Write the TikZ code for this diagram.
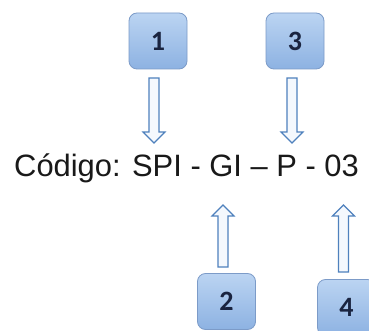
\documentclass[tikz,border=0pt]{standalone}
\usepackage{fontspec}
\setmainfont{Liberation Sans}
\newfontfamily\digitfont{Carlito}
\usetikzlibrary{calc}
\definecolor{boxtop}{HTML}{BBD4F2}
\definecolor{boxbot}{HTML}{8DB2E2}
\definecolor{boxline}{HTML}{7C9BC8}
\definecolor{arrline}{HTML}{4F81BD}
\definecolor{arrfill}{HTML}{F4F8FD}
\definecolor{digit}{HTML}{1A2440}
\tikzset{
  numbox/.style={rounded corners=8pt, minimum width=58pt, minimum height=56pt,
    top color=boxtop, bottom color=boxbot, draw=boxline, line width=0.8pt,
    font=\digitfont\bfseries\fontsize{28}{28}\selectfont, text=digit, inner sep=0pt},
  blockarrow/.style={draw=arrline, fill=arrfill, line width=1.1pt, line join=miter},
  codetext/.style={font=\fontsize{30.9}{31}\selectfont, text=black!90, inner sep=0pt}
}
\newcommand\vblock[3]{%
  \draw[blockarrow] ($(#1)+(-5,0)$) -- ($(#2)+(-5,{-11*(#3)})$) -- ($(#2)+(-11,{-11*(#3)})$)
    -- (#2) -- ($(#2)+(11,{-11*(#3)})$) -- ($(#2)+(5,{-11*(#3)})$) -- ($(#1)+(5,0)$) -- cycle;}
\begin{document}
\begin{tikzpicture}[x=1pt,y=-1pt]
\useasboundingbox[clip] (0,0) rectangle (369,331);
\fill[white] (0,0) rectangle (369,331);
\node[numbox] (b1) at (158,41) {1};
\node[numbox] (b3) at (295,41) {3};
\node[numbox] (b2) at (226.5,301.5) {2};
\node[numbox] (b4) at (346.5,307.5) {4};
\node[codetext, anchor=base west] (code) at (14,177) {Código: SPI - GI – P - 03};
\coordinate (a1s) at (154,78);  \coordinate (a1e) at (154,143);
\coordinate (a3s) at (292,78);  \coordinate (a3e) at (292,143);
\coordinate (a2s) at (223,267); \coordinate (a2e) at (223,205);
\coordinate (a4s) at (343.5,272); \coordinate (a4e) at (343.5,205);
\vblock{a1s}{a1e}{1}
\vblock{a3s}{a3e}{1}
\vblock{a2s}{a2e}{-1}
\vblock{a4s}{a4e}{-1}
\end{tikzpicture}
\end{document}
